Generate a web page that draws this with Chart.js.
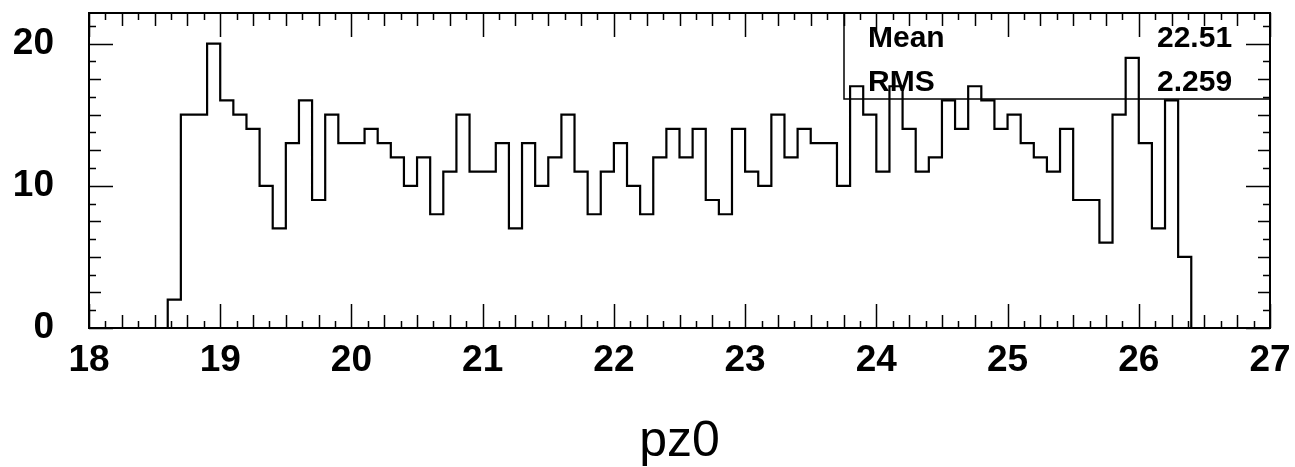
<!DOCTYPE html>
<html lang="en">
<head>
    <meta charset="UTF-8">
    <title>pz0</title>
    <script src="https://cdn.jsdelivr.net/npm/chart.js"></script>
    <style>
        body { margin: 0; background: #fff; }
    </style>
</head>
<body>
    <canvas id="myChart" width="1295" height="467"></canvas>

    <script>
        // Histogram binning (bin edges start at 18.6, width 0.1)
        const binStart = 18.6;
        const binWidth = 0.1;

        // Entries per bin (18.6 ... 26.4)
        const counts = [
            2, 15, 15, 20, 16, 15, 14, 10, 7, 13,
            16, 9, 15, 13, 13, 14, 13, 12, 10, 12,
            8, 11, 15, 11, 11, 13, 7, 13, 10, 12,
            15, 11, 8, 11, 13, 10, 8, 12, 14, 12,
            14, 9, 8, 14, 11, 10, 15, 12, 14, 13,
            13, 10, 17, 15, 11, 17, 14, 11, 12, 16,
            14, 17, 16, 14, 15, 13, 12, 11, 14, 9,
            9, 6, 15, 19, 13, 7, 16, 5
        ];

        // Axis labels
        const xTickValues = [18, 19, 20, 21, 22, 23, 24, 25, 26, 27];
        const yTickValues = [0, 10, 20];
        const xTitle = 'pz0';

        // Statistics box
        const statNames = ['Mean', 'RMS'];
        const statValues = ['22.51', '2.259'];

        // Step points for the histogram outline
        const points = [{ x: binStart, y: 0 }];
        counts.forEach((c, i) => points.push({ x: binStart + i * binWidth, y: c }));
        points.push({ x: binStart + counts.length * binWidth, y: 0 });

        // Frame, inward ticks and stat box (PAW style)
        const framePlugin = {
            id: 'frame',
            afterDraw(chart) {
                const ctx = chart.ctx;
                const a = chart.chartArea;
                const xs = chart.scales.x;
                const ys = chart.scales.y;
                ctx.save();
                ctx.strokeStyle = '#000';
                ctx.lineWidth = 2;
                ctx.strokeRect(a.left, a.top, a.right - a.left, a.bottom - a.top);

                // x ticks every 1/8, quarter ticks longer, integers longest
                ctx.beginPath();
                for (let k = 0; k <= (xs.max - xs.min) * 8; k++) {
                    const v = xs.min + k / 8;
                    const len = k % 8 === 0 ? 24 : (k % 2 === 0 ? 13 : 7);
                    const px = Math.round(xs.getPixelForValue(v)) + 0.5;
                    ctx.moveTo(px, a.bottom); ctx.lineTo(px, a.bottom - len);
                    ctx.moveTo(px, a.top); ctx.lineTo(px, a.top + len);
                }
                // y ticks every 1.25, 2.5 longer, 10 longest
                for (let k = 0; k * 1.25 <= ys.max; k++) {
                    const v = k * 1.25;
                    const len = k % 8 === 0 ? 24 : (k % 2 === 0 ? 12 : 7);
                    const py = Math.round(ys.getPixelForValue(v)) + 0.5;
                    ctx.moveTo(a.left, py); ctx.lineTo(a.left + len, py);
                    ctx.moveTo(a.right, py); ctx.lineTo(a.right - len, py);
                }
                ctx.lineWidth = 1.5;
                ctx.stroke();

                // stat box
                const boxLeft = a.right - 426;
                const boxBottom = a.top + 86;
                ctx.lineWidth = 1.5;
                ctx.beginPath();
                ctx.moveTo(boxLeft, a.top);
                ctx.lineTo(boxLeft, boxBottom);
                ctx.lineTo(a.right, boxBottom);
                ctx.stroke();

                ctx.fillStyle = '#000';
                ctx.font = 'bold 30px "Liberation Sans", Arial, sans-serif';
                ctx.textBaseline = 'alphabetic';
                ctx.textAlign = 'left';
                statNames.forEach((name, i) => {
                    const base = a.top + 34 + i * 44;
                    ctx.fillText(name, boxLeft + 24, base);
                    ctx.fillText(statValues[i], boxLeft + 313, base);
                });
                ctx.restore();
            }
        };

        const ctx = document.getElementById('myChart').getContext('2d');
        new Chart(ctx, {
            type: 'line',
            data: {
                datasets: [{
                    data: points,
                    stepped: 'before',
                    borderColor: '#000',
                    borderWidth: 2.2,
                    pointRadius: 0,
                    fill: false,
                    tension: 0
                }]
            },
            options: {
                responsive: false,
                animation: false,
                layout: { padding: { left: 0, right: 25, top: 13, bottom: 0 } },
                scales: {
                    x: {
                        type: 'linear',
                        min: 18,
                        max: 27,
                        afterBuildTicks: s => { s.ticks = xTickValues.map(v => ({ value: v })); },
                        afterFit: s => { s.height = 139; s.paddingLeft = 0; s.paddingRight = 0; },
                        grid: { display: false, drawTicks: false, tickLength: 0 },
                        border: { display: false },
                        ticks: {
                            color: '#000',
                            padding: 11,
                            maxRotation: 0,
                            autoSkip: false,
                            font: { family: '"Liberation Sans", Arial, sans-serif', size: 37, weight: 'bold' }
                        },
                        title: {
                            display: true,
                            text: xTitle,
                            color: '#000',
                            padding: { top: 0, bottom: 0 },
                            font: { family: '"Liberation Sans", Arial, sans-serif', size: 50, lineHeight: 1 }
                        }
                    },
                    y: {
                        min: 0,
                        max: 22.15,
                        afterBuildTicks: s => { s.ticks = yTickValues.map(v => ({ value: v })); },
                        afterFit: s => { s.width = 89; s.paddingTop = 0; s.paddingBottom = 0; },
                        grid: { display: false, drawTicks: false, tickLength: 0 },
                        border: { display: false },
                        ticks: {
                            color: '#000',
                            padding: 35,
                            font: { family: '"Liberation Sans", Arial, sans-serif', size: 37, weight: 'bold' }
                        }
                    }
                },
                plugins: {
                    legend: { display: false },
                    tooltip: { enabled: false }
                }
            },
            plugins: [framePlugin]
        });
    </script>
</body>
</html>
